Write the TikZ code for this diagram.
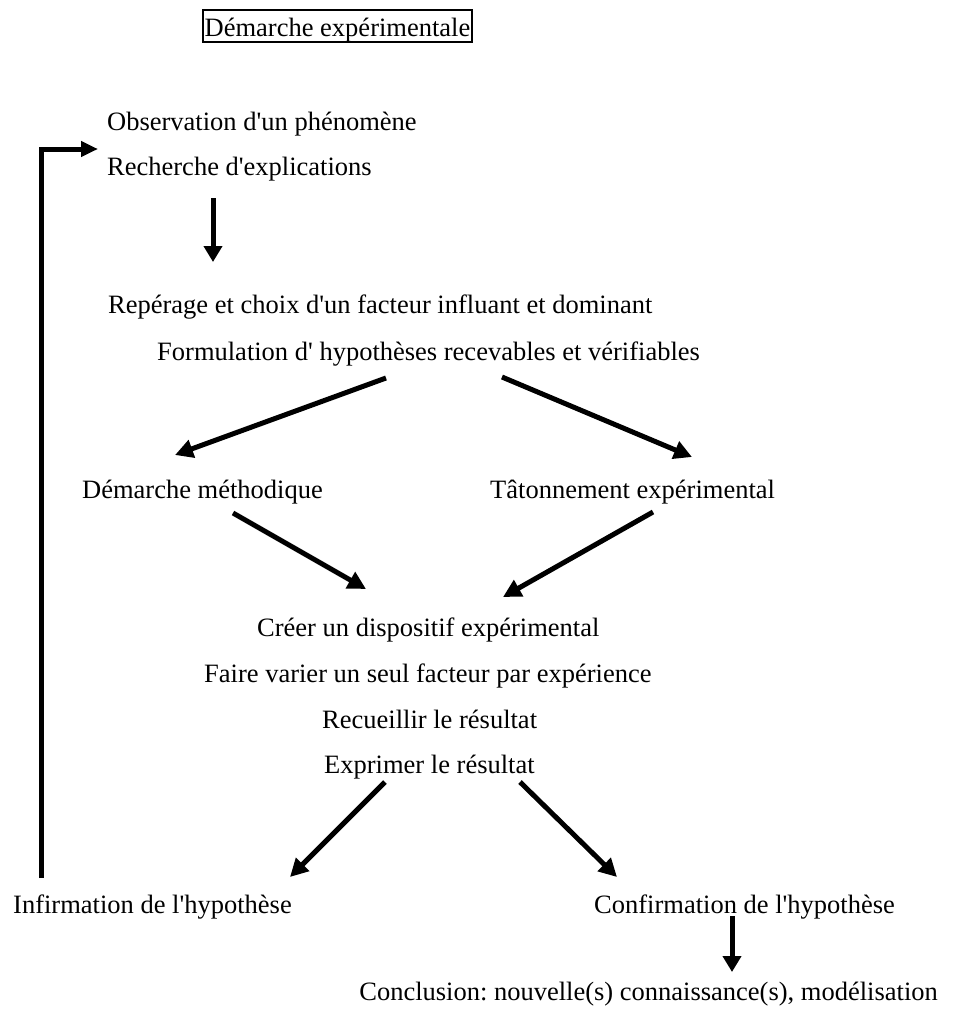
\documentclass[tikz,border=0pt]{standalone}
\usepackage{fontspec}
\setmainfont{Liberation Serif}[Ligatures=TeXOff]
\usetikzlibrary{arrows.meta}
\frenchspacing
\begin{document}
\begin{tikzpicture}[x=1pt,y=-1pt,
  txt/.style={anchor=base west,inner sep=0pt,font=\fontsize{26.5}{30}\selectfont},
  arr/.style={line width=5pt,-{Triangle[length=18pt,width=18pt]}},
  varr/.style={line width=5pt,-{Triangle[length=16pt,width=18pt]}}]
\useasboundingbox (0,0) rectangle (953,1009);
% title
\node[draw,line width=1.6pt,anchor=base,inner xsep=2pt,inner ysep=0pt,
  text height=26pt,text depth=6pt,font=\fontsize{26.5}{30}\selectfont] (title) at (337.5,36) {Démarche expérimentale};
% texts
\node[txt] (obs) at (107,130) {Observation d'un phénomène};
\node[txt] (rech) at (107,175) {Recherche d'explications};
\node[txt] (rep) at (108,313) {Repérage et choix d'un facteur influant et dominant};
\node[txt] (form) at (157,360) {Formulation d' hypothèses recevables et vérifiables};
\node[txt] (dm) at (82,498) {Démarche méthodique};
\node[txt] (tat) at (490,498) {Tâtonnement expérimental};
\node[txt] (creer) at (257,636) {Créer un dispositif expérimental};
\node[txt] (faire) at (204,682) {Faire varier un seul facteur par expérience};
\node[txt] (rec) at (322,728) {Recueillir le résultat};
\node[txt] (expr) at (324,773) {Exprimer le résultat};
\node[txt] (inf) at (13,913) {Infirmation de l'hypothèse};
\node[txt] (conf) at (594,913) {Confirmation de l'hypothèse};
\node[txt,anchor=base east] (concl) at (938,1000) {Conclusion: nouvelle(s) connaissance(s), modélisation};
% arrow end points
\coordinate (r1) at (213,198);  \coordinate (r2) at (213,262);
\coordinate (f1) at (386,378);  \coordinate (f2) at (175,455);
\coordinate (f3) at (502,377);  \coordinate (f4) at (692,457);
\coordinate (d1) at (233,513);  \coordinate (d2) at (366,589);
\coordinate (t1) at (653,512);  \coordinate (t2) at (503,597);
\coordinate (e1) at (385,782);  \coordinate (e2) at (290,877);
\coordinate (e3) at (520,782);  \coordinate (e4) at (617,877);
\coordinate (c1) at (732,916);  \coordinate (c2) at (732,972);
\coordinate (fb1) at (41,878);  \coordinate (fb2) at (41,149); \coordinate (fb3) at (98,149);
% arrows
\draw[varr] (r1) -- (r2);
\draw[arr] (f1) -- (f2);
\draw[arr] (f3) -- (f4);
\draw[arr] (d1) -- (d2);
\draw[arr] (t1) -- (t2);
\draw[arr] (e1) -- (e2);
\draw[arr] (e3) -- (e4);
\draw[varr] (c1) -- (c2);
\draw[line width=5pt,-{Triangle[length=17pt,width=15pt]}] (fb1) |- (fb3);
\end{tikzpicture}
\end{document}
